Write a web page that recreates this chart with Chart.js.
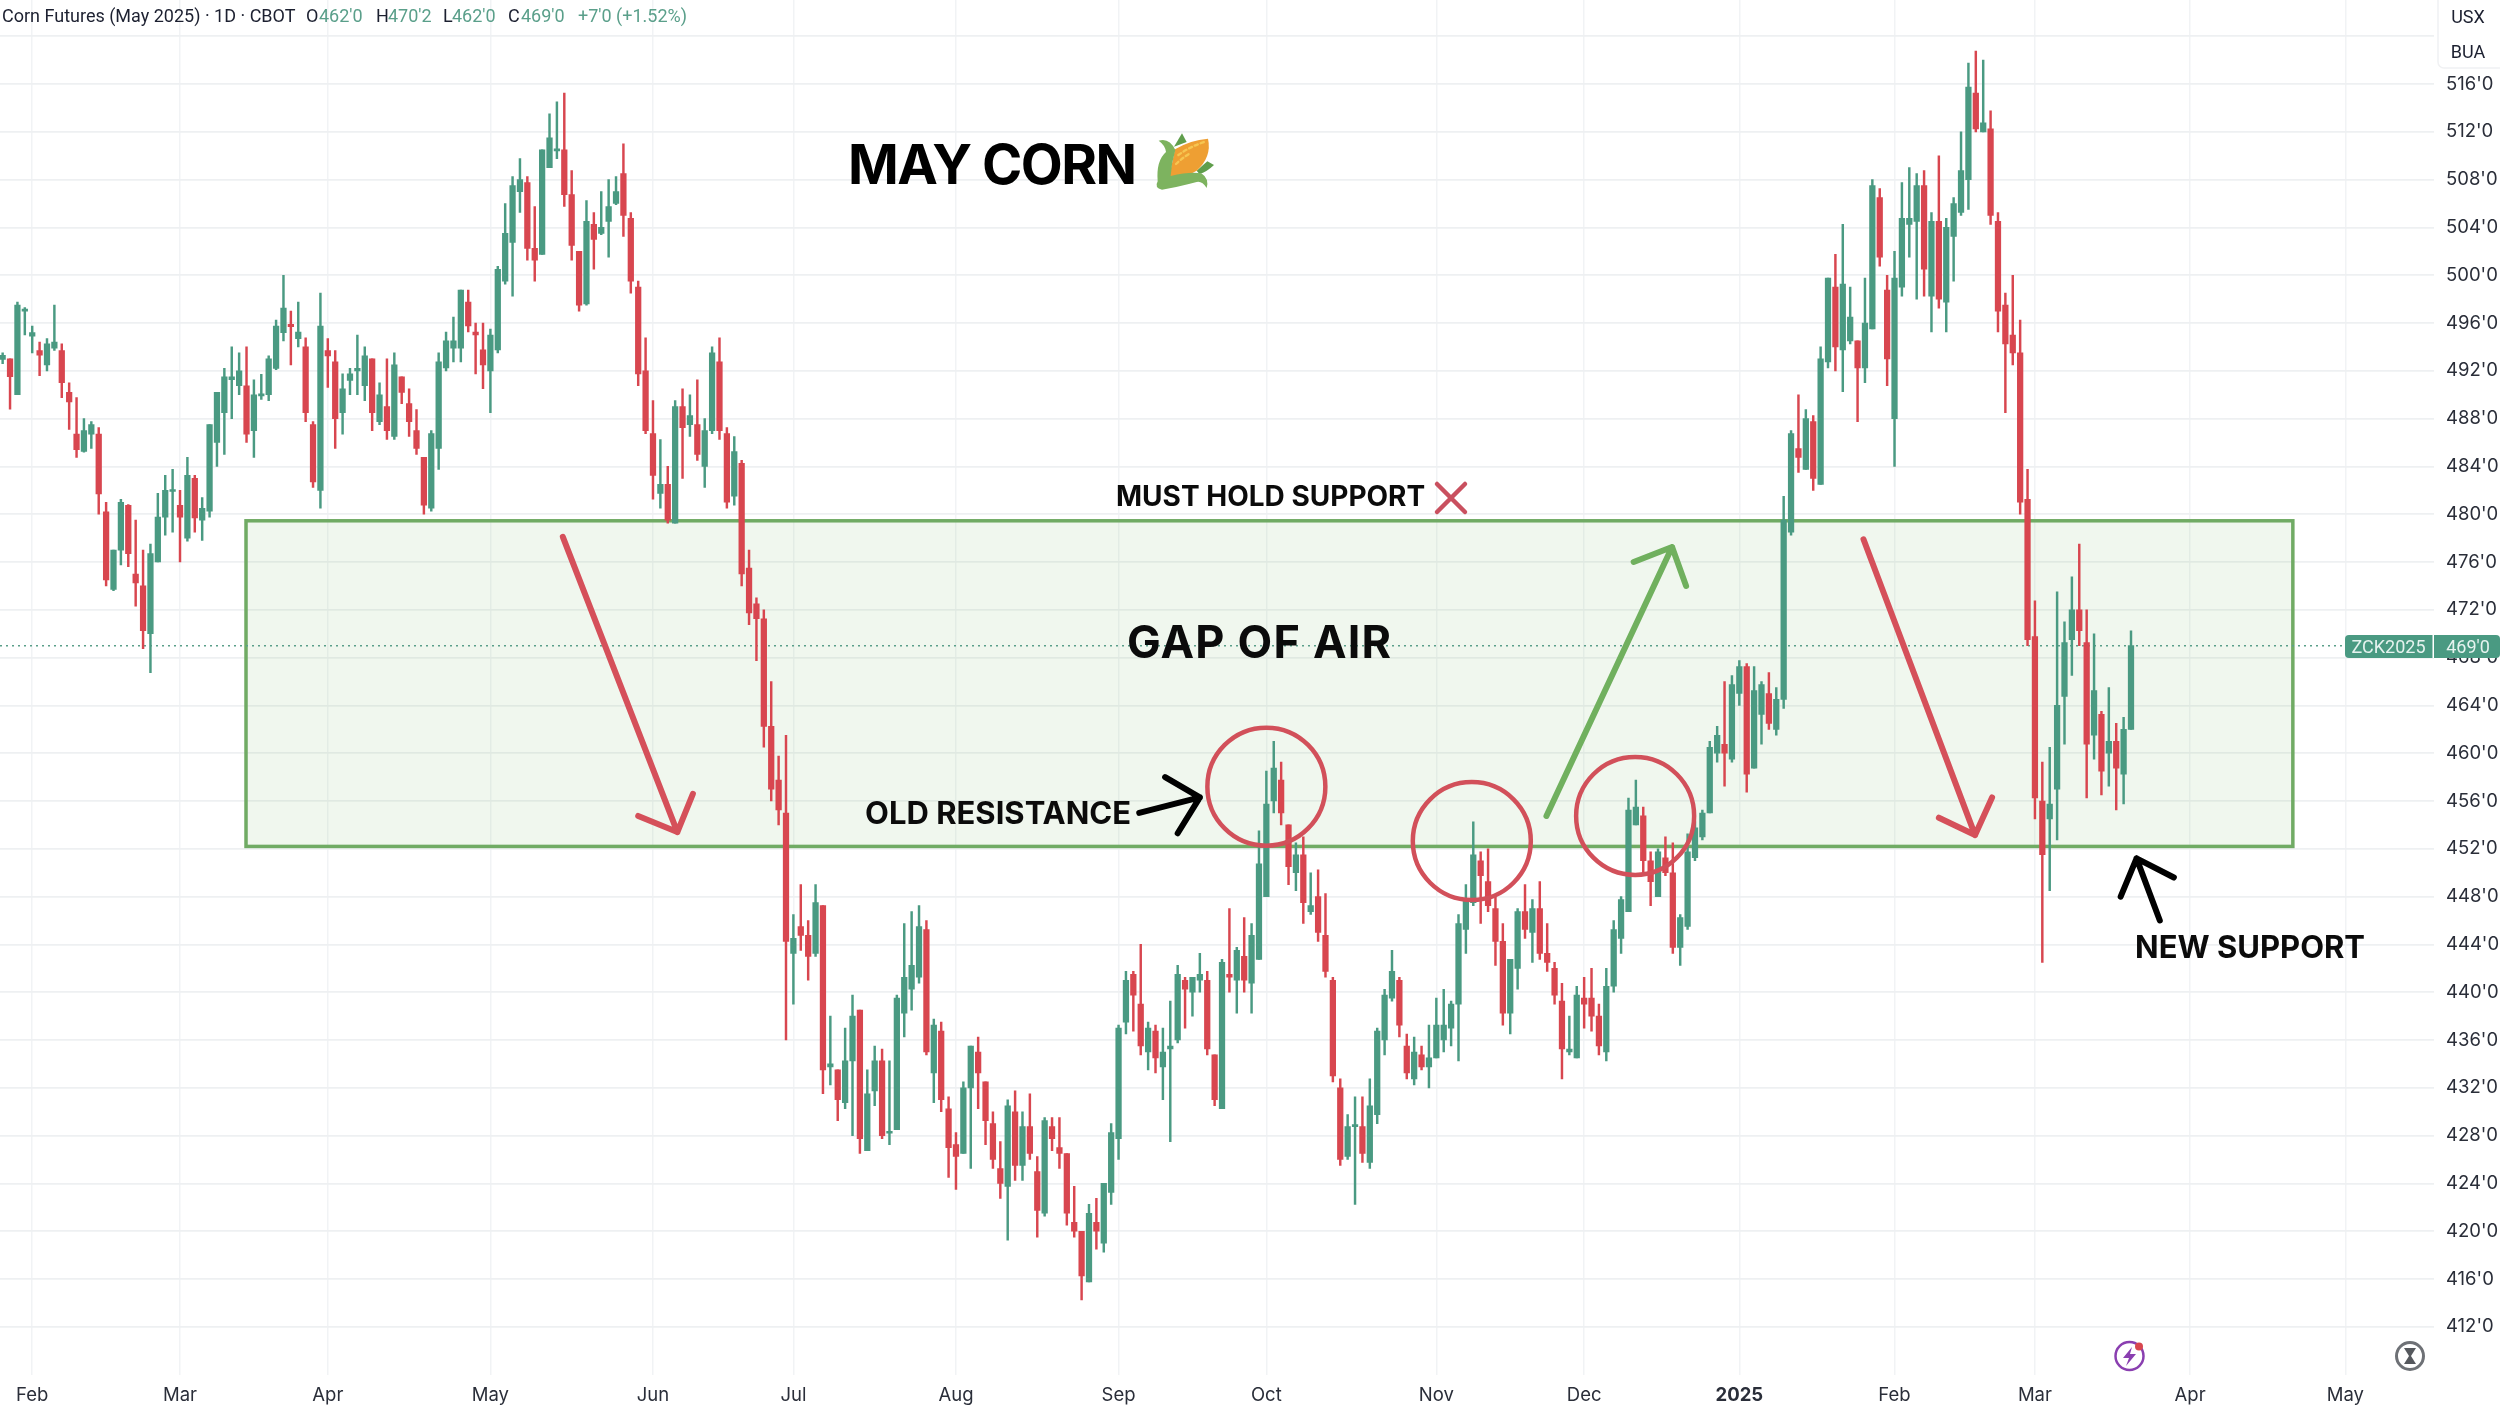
<!DOCTYPE html>
<html>
<head>
<meta charset="utf-8">
<title>May Corn</title>
<script src="https://cdn.jsdelivr.net/npm/chart.js@4/dist/chart.umd.min.js"></script>
<style>
html,body{margin:0;padding:0;background:#fff;overflow:hidden}
canvas{display:block}
</style>
</head>
<body>
<canvas id="mycanvas" width="2500" height="1406"></canvas>
<script>
// daily candles
var opens = [
492.95,493,490,497,494.9,493.7,492.5,493.9,493.7,490.2,
486.7,485.25,486.7,486.7,480.2,473.7,477,480.75,475,474,
470,476,479.75,481.9,480.75,478,483,479.5,480.25,486,
488.5,491.25,490.75,490.75,487,489.9,490,492.2,495.2,495.9,
494.7,494,487.5,482,493.7,492.75,488.5,491.2,492,490.75,
493,487.75,489,486.5,491.5,489.25,487,484.75,480.5,485.5,
492.25,493.9,493.9,497.75,495.25,493.75,492,493.75,499.5,502.75,
507,507.75,502.25,501.75,509,510.4,510.5,506.75,502,497.6,
504.25,503.5,504.5,506,508.5,504.75,499,492,486.75,481.75,
482.5,479.25,489,487.5,487.5,484,487,492.75,486.75,481.5,
484.25,475.5,472.5,471.25,462.25,457.75,455,443.25,445.5,444.75,
443.25,447.25,433.75,433.5,430.75,434.25,438.5,426.75,431.75,434.25,
428.2,428.5,438.25,440.25,441.25,445.25,433.25,436.75,430.25,427.25,
426.5,432,435,432.5,429,425.25,423.75,430,425.5,428.75,
425,421.5,428.75,427,426.5,420.75,420,415.75,420.75,419,
423.25,427.75,437.5,441.5,439,435,436.75,433.75,435.25,436,
441,440,441,441,434.75,430.25,441.5,441,443,440.75,
442.75,448,456,457.75,454,450,451.5,446.75,448,444.75,
441,432,426.25,428.75,428.75,425.75,429.75,436,439.5,441,
435.5,432.75,434.75,433.75,434.5,436,437,439,445.25,447.5,
451,449.25,447,444.25,438.25,442,446.75,445,447,443.25,
442,439.25,435,434.5,439.5,439.5,438,435,440.5,444.5,
446.75,454,454.75,451,448,451.25,450,443.75,445.5,451.25,
453,455,460,460.75,459.5,465,467.25,458.75,463.25,465,
462,464.5,478.5,485.5,483.75,487.75,482.5,492.75,499,493.75,
494.5,494.5,492.25,495.5,506.5,498.75,488,499,504.25,504.5,
507.5,498.25,504.5,497.75,503.25,505.25,508,515.25,512,512.25,
504.5,497.5,495,493.5,481.25,469.75,456,454.5,457,464.75,
469.5,472,469.25,461.5,463.25,460,461,458.25,462];
var closes = [
493.3,491.5,497.5,497.1,495.2,493.3,494.25,494.4,491,489.4,
485.4,487,487.5,481.7,474.5,477,481,476.7,474.25,470.25,
476.7,479.75,482,482,479.75,483.25,479.7,480.5,487.5,490.2,
491.5,491.5,492,486.7,490,490,493,495.75,497.25,495.7,
495.25,488.5,482.7,495.75,493.25,488,490.5,491.75,492.2,493.25,
488.5,490,487,492.5,490.2,487.75,485.5,480.75,486.75,492.75,
494.5,494.5,498.75,495.75,495,492.5,495,500.5,503.5,507.5,
508,502.25,501.25,510.5,511.5,510.5,506.75,502.5,497.5,504.5,
503,504,505.75,507,505,499.5,491.75,487,483.25,482.5,
479.5,489,487.25,488.25,485,487,493.5,487,481,485.25,
475,471.75,471.25,462.25,457,455.25,444.25,444.5,444.75,443,
447.5,433.5,434,431,434.25,438,427.75,431.5,434.25,428,
428.3,439.5,441.25,442.25,445.5,435,437.25,431,427,426.25,
432,435.5,433.25,429.25,426,424,430.5,425.5,428.75,426.5,
421.75,429.25,427.75,426.5,421.5,420,416.25,421.5,420,424,
428.25,437,441,439.75,435.5,437,434.5,435,435.5,441.5,
440.25,441.25,441.5,435.25,431,442.5,441.25,443.5,441,444.75,
450.75,455.75,458.75,455,450.5,451.5,447.5,447.25,445,441.75,
433,426,428.75,428.85,426.5,430.5,436.75,439.75,441.75,437.25,
433.25,435,433.75,434.5,437.25,437.25,439,445.75,447.75,451.5,
449.75,447.25,444.25,438.25,442.75,446.75,445.25,447,443.25,442.5,
439.75,435.25,435.25,439.75,439,438,435.5,440.5,445.25,447.75,
455.25,455.5,451,449.25,451.75,450,443.75,446.25,451.75,453.75,
455,460.5,461.5,460,465.75,467.25,458.25,465.25,465.75,462.5,
464.5,479.5,486.75,484.75,488,483,493,499.75,494,499.25,
496.5,492.25,496,507.5,501.5,493,499.75,504.75,504.75,507.5,
500.5,504.5,498,504,506,508.75,515.75,512.25,512.75,505,
497,494.25,493.5,481,469.5,456.25,451.5,455.75,464,469.25,
472,470.25,460.75,465.25,458.5,461,458.75,462,469];
var highs = [
493.5,493,497.75,497.3,495.75,494.4,494.7,497.5,494.25,491,
489.75,488,487.75,487.25,481,477,481.25,480.8,479.5,477,
477.5,481.75,483.25,483.75,482,484.75,483.25,481.4,487.5,490.2,
492.2,494,493.5,494,491.25,491.7,493.25,496.25,500,497,
497.75,494.75,487.75,498.5,494.7,493.7,491.75,492.2,495,494,
493,491,493,493.5,491.5,490.5,488.75,484.75,487,493.5,
495.25,496.5,498.75,498.75,496,496,495.5,500.75,506,508.25,
509.75,508.25,505.75,510.5,513.5,514.5,515.25,508.75,502,506.25,
505.25,507,508,508.25,511,505.25,499.5,494.75,489.5,486.25,
484,489.5,490.5,490,491.25,488,494,494.75,487.25,486.5,
484.5,477,473,472,466,459.75,461.5,446.5,449,446,
449,447.25,438,433.5,437,439.75,438.5,433.5,435.5,435.25,
434.25,439.75,445.75,446.75,447.25,446,437.75,437.5,431.25,428.25,
432.5,435.5,436.25,432.5,430,427.5,431,431.75,430,431.5,
426.25,429.5,429.5,429.5,426.5,423.75,420,422.25,422.75,424,
429,437.25,441.75,441.75,444,437.5,437.25,437,439.25,442.25,
441.25,441.25,443.25,441.75,434.75,442.75,447,443.75,446.25,445.75,
453.5,458.5,461,459.25,454,452.5,453,450,450.25,448.25,
441.25,432.75,429.75,431.25,431.25,432.75,437,440.25,443.5,441.25,
436.5,436.25,435.5,437.25,439.5,440.25,439.25,446.5,449,454.25,
451.75,452,448,445.75,442.75,447,449,447.75,449.25,445.75,
442.5,440.75,438,440.5,441.25,442,439,442,446,448,
456.25,457.75,455.5,451.75,452,453,452.5,446.5,453.25,454.25,
455.25,461,462.25,466,466.5,467.75,467.5,467.25,466,466.75,
465.5,481.5,487,490,488.75,488.25,494,499.75,501.75,504.25,
499,494.5,499.75,508,507.25,500,502,507.75,509,508.5,
508.75,505.25,510,504.75,506.5,512,517.75,518.75,518,513.75,
505.25,498.5,500,496.25,483.75,472.75,459.25,460.5,473.5,471,
474.75,477.5,472,470,463.5,465.5,462.5,463,470.25];
var lows = [
492.6,488.8,490,495,493.5,491.6,492,493.7,489.75,487.1,
484.75,485.2,485.5,480,474,473.6,475.75,475.6,472.3,468.75,
466.75,476,478.25,478.5,476,477.75,478.5,477.8,479.75,484,
485,488,490,486,484.75,489.6,489.5,492.1,494.5,492.5,
494,487.75,482.25,480.5,490.6,485.5,486.7,490,490,489.5,
487,487.5,486.25,486.25,489.25,486.5,485,480,480.25,483.75,
492,492.75,492.75,495.25,491.75,490.5,488.5,493.5,499.25,498.25,
505.25,501.25,499.5,501.75,509,509.75,505.75,501.25,497,497.5,
500.5,503.4,501.5,505.9,503.25,498.5,490.75,486.75,481.25,480.5,
479.25,479.25,483,486.5,484.5,482.25,486.75,486.25,480.5,480.75,
474,470.75,467.75,460.5,456,454,436,439,443.5,441,
443,431.5,432.25,429.25,430.25,428,426.5,426.75,430.5,427.75,
427.25,428.5,436.25,438.5,440.75,434.75,430.75,430,424.5,423.5,
426.5,425.25,430.25,427.25,425.25,422.75,419.25,424.25,424.25,426,
419.5,421.25,426.75,425.25,420.5,419.5,414.25,415.75,418.5,418.25,
422.25,426,436.5,436.75,434.75,433.5,433.25,431,427.5,435.75,
437,438,440,434.75,430.5,430.25,440,438.25,440,438.25,
442.75,448,455,454,449,448.5,445.75,446.5,444.25,441.25,
432.5,425.5,426,422.25,425.75,425.25,429,434.75,439.25,436.25,
432.75,432.25,433.5,432,434.5,435,435.5,434.25,443.25,447.25,
445.75,446.75,442.25,437.25,436.5,440.25,444.5,442.5,442.75,441.75,
439,432.75,434.75,434.5,437,436.75,434.75,434.25,440,443.25,
446.75,454,450,447.25,448,449.75,443.25,442.25,445.25,451,
452.75,455,459.25,457.25,459.25,464,456.75,458.75,460.75,462,
461.5,463.75,478.25,483.5,483.75,482,482.5,492.25,492,490.25,
494.25,487.75,491,495.5,500.75,490.75,484,498.25,501.5,498,
498.25,495.25,497.25,495.25,499.5,505,505.5,512,512,504.25,
495.25,488.5,492.5,480,469,454.5,442.5,448.5,452.75,460.75,
466.5,469,456.25,459.5,456.5,457.25,455.25,455.75,462];

// month ticks sit on the candle number of the first session
var monthPos = [4,24,44,66,88,107,129,151,171,194,214,235,256,275,296,317];
var monthNames = ["Feb","Mar","Apr","May","Jun","Jul","Aug","Sep","Oct","Nov","Dec","2025","Feb","Mar","Apr","May"];
var priceTicks = [412,416,420,424,428,432,436,440,444,448,452,456,460,464,468,472,476,480,484,488,492,496,500,504,508,512,516,520];

var GREEN = "#4a9a82";
var RED = "#d8464f";
var FONT = "Inter, 'Liberation Sans', sans-serif";
var NARROW = "Roboto, 'Liberation Sans', sans-serif";

var wicks = [], bodies = [];
for (var i = 0; i < opens.length; i++) {
	wicks.push({x: i, y: [lows[i], highs[i]]});
	bodies.push({x: i, y: [opens[i], closes[i]]});
}

function candleColor(ctx) {
	var n = ctx.dataIndex;
	return closes[n] >= opens[n] ? GREEN : RED;
}

// the green box goes behind the candles
var zonePlugin = {
	id: "zone",
	beforeDatasetsDraw: function(chart) {
		var c = chart.ctx, sx = chart.scales.x, sy = chart.scales.y;
		var x1 = sx.getPixelForValue(32.93), x2 = sx.getPixelForValue(309.9);
		var y1 = sy.getPixelForValue(479.45), y2 = sy.getPixelForValue(452.2);
		c.save();
		c.fillStyle = "rgba(112,176,96,0.105)";
		c.fillRect(x1, y1, x2 - x1, y2 - y1);
		c.strokeStyle = "#70ab64";
		c.lineWidth = 3.5;
		c.strokeRect(x1, y1, x2 - x1, y2 - y1);
		// last price line
		var py = sy.getPixelForValue(469);
		c.strokeStyle = "#5a9f8a";
		c.lineWidth = 1.5;
		c.setLineDash([2, 4]);
		c.beginPath();
		c.moveTo(0, py);
		c.lineTo(2345, py);
		c.stroke();
		c.restore();
	}
};

function arrow(chart, pts, color, w) {
	var c = chart.ctx, sx = chart.scales.x, sy = chart.scales.y;
	function X(p) { return sx.getPixelForValue(p[0]); }
	function Y(p) { return sy.getPixelForValue(p[1]); }
	c.strokeStyle = color;
	c.lineWidth = w;
	c.lineCap = "round";
	c.lineJoin = "round";
	c.beginPath();
	c.moveTo(X(pts.tail), Y(pts.tail));
	c.lineTo(X(pts.tip), Y(pts.tip));
	c.moveTo(X(pts.a), Y(pts.a));
	c.lineTo(X(pts.tip), Y(pts.tip));
	c.lineTo(X(pts.b), Y(pts.b));
	c.stroke();
}

function ring(chart, i, p, r) {
	var c = chart.ctx;
	c.strokeStyle = "#d2505a";
	c.lineWidth = 4.5;
	c.beginPath();
	c.arc(chart.scales.x.getPixelForValue(i), chart.scales.y.getPixelForValue(p), r, 0, Math.PI * 2);
	c.stroke();
}

function label(c, txt, x, y, font, color, align, spacing) {
	c.font = font;
	c.fillStyle = color;
	c.textAlign = align || "left";
	c.textBaseline = "alphabetic";
	c.letterSpacing = (spacing || 0) + "px";
	c.fillText(txt, x, y);
	c.letterSpacing = "0px";
}

function corn(c) {
	// drawn in the 3x crop's units, then scaled down
	c.save();
	c.translate(800, 100);
	c.scale(1 / 3, 1 / 3);
	c.fillStyle = "#5f9e4c";
	c.beginPath();
	c.moveTo(1122, 140); c.lineTo(1146, 100); c.lineTo(1160, 126); c.closePath(); c.fill();
	c.beginPath();
	c.moveTo(1190, 212); c.lineTo(1222, 184); c.lineTo(1242, 195);
	c.quadraticCurveTo(1220, 216, 1198, 222); c.closePath(); c.fill();
	c.fillStyle = "#ee9f33";
	c.beginPath();
	c.moveTo(1125, 148);
	c.quadraticCurveTo(1170, 120, 1224, 116);
	c.quadraticCurveTo(1236, 170, 1190, 212);
	c.quadraticCurveTo(1150, 236, 1108, 228);
	c.closePath(); c.fill();
	c.strokeStyle = "#f6c651";
	c.lineWidth = 7;
	c.setLineDash([10, 9]);
	c.beginPath();
	c.moveTo(1135, 165); c.quadraticCurveTo(1170, 140, 1215, 125);
	c.moveTo(1128, 192); c.quadraticCurveTo(1145, 175, 1170, 160);
	c.stroke();
	c.setLineDash([]);
	c.fillStyle = "#7db35f";
	c.beginPath();
	c.moveTo(1076, 122);
	c.quadraticCurveTo(1108, 112, 1126, 150);
	c.quadraticCurveTo(1114, 190, 1112, 228);
	c.quadraticCurveTo(1170, 214, 1204, 220);
	c.quadraticCurveTo(1228, 236, 1220, 264);
	c.quadraticCurveTo(1206, 242, 1190, 246);
	c.quadraticCurveTo(1130, 262, 1086, 269);
	c.quadraticCurveTo(1062, 264, 1073, 244);
	c.quadraticCurveTo(1068, 182, 1098, 156);
	c.quadraticCurveTo(1096, 136, 1076, 122);
	c.closePath(); c.fill();
	c.restore();
}

function icons(c) {
	// purple bolt
	c.strokeStyle = "#8a3fb0";
	c.lineWidth = 2.5;
	c.beginPath();
	c.arc(2129.5, 1356, 14, 0, Math.PI * 2);
	c.stroke();
	c.fillStyle = "#8a3fb0";
	c.beginPath();
	c.moveTo(2132, 1347); c.lineTo(2123, 1358); c.lineTo(2129, 1358);
	c.lineTo(2126, 1366); c.lineTo(2136, 1354); c.lineTo(2130, 1354); c.closePath(); c.fill();
	c.fillStyle = "#d8464f";
	c.beginPath();
	c.arc(2139, 1346.5, 4, 0, Math.PI * 2);
	c.fill();
	// hourglass
	c.strokeStyle = "#6e7176";
	c.lineWidth = 3;
	c.beginPath();
	c.arc(2410, 1356, 13.5, 0, Math.PI * 2);
	c.stroke();
	c.fillStyle = "#55585d";
	c.beginPath();
	c.moveTo(2404, 1348); c.lineTo(2416, 1348); c.lineTo(2411, 1356); c.lineTo(2416, 1364);
	c.lineTo(2404, 1364); c.lineTo(2409, 1356); c.closePath(); c.fill();
}

var notesPlugin = {
	id: "notes",
	afterDatasetsDraw: function(chart) {
		var c = chart.ctx;
		c.save();
		arrow(chart, {tail: [75.8, 478.1], tip: [91.3, 453.4], a: [86, 454.75], b: [93.4, 456.6]}, "#d5505a", 6);
		arrow(chart, {tail: [251.8, 477.9], tip: [266.9, 453.15], a: [262, 454.6], b: [269.2, 456.3]}, "#d5505a", 6);
		arrow(chart, {tail: [208.9, 454.75], tip: [225.9, 477.25], a: [220.7, 476], b: [227.8, 474]}, "#70b05e", 6);
		arrow(chart, {tail: [153.8, 455], tip: [162, 456.3], a: [157.3, 458], b: [159, 453.3]}, "#000", 6);
		arrow(chart, {tail: [291.9, 446], tip: [288.75, 451.2], a: [286.6, 448], b: [293.8, 449.6]}, "#000", 6);
		ring(chart, 171, 457.2, 59);
		ring(chart, 198.8, 452.65, 59);
		ring(chart, 220.9, 454.75, 59);

		label(c, "MAY CORN", 848, 184, "700 54.5px " + FONT, "#000", "left", -1.5);
		corn(c);
		label(c, "GAP OF AIR", 1127, 658, "700 45px " + FONT, "#0b0b0b", "left", 1.2);
		label(c, "MUST HOLD SUPPORT", 1116, 506, "700 28px " + FONT, "#0b0b0b");
		label(c, "OLD RESISTANCE", 865, 824, "700 31px " + FONT, "#0b0b0b");
		label(c, "NEW SUPPORT", 2135, 958, "700 31px " + FONT, "#0b0b0b");

		c.strokeStyle = "#c9505f";
		c.lineWidth = 4.5;
		c.lineCap = "round";
		c.beginPath();
		c.moveTo(1437, 484); c.lineTo(1465, 512);
		c.moveTo(1465, 484); c.lineTo(1437, 512);
		c.stroke();

		// header line
		var f = "400 18px " + NARROW, up = "#5a9f8a", ink = "#1c2030";
		label(c, "Corn Futures (May 2025) \u00b7 1D \u00b7 CBOT", 2, 22, f, ink);
		label(c, "O", 306, 22, f, ink);
		label(c, "462'0", 319, 22, f, up);
		label(c, "H", 376, 22, f, ink);
		label(c, "470'2", 388, 22, f, up);
		label(c, "L", 443, 22, f, ink);
		label(c, "462'0", 452, 22, f, up);
		label(c, "C", 508, 22, f, ink);
		label(c, "469'0", 521, 22, f, up);
		label(c, "+7'0 (+1.52%)", 578, 22, f, up);

		// currency / unit box
		c.fillStyle = "#fff";
		c.strokeStyle = "#f0f1f3";
		c.lineWidth = 1.5;
		c.beginPath();
		c.roundRect(2438, -6, 70, 74, 6);
		c.fill();
		c.stroke();
		label(c, "USX", 2468, 23, "400 18px " + NARROW, ink, "center");
		label(c, "BUA", 2468, 58, "400 18px " + NARROW, ink, "center");

		// last price badge
		c.fillStyle = "#4a9a82";
		c.beginPath();
		c.roundRect(2345, 635, 155, 23, 4);
		c.fill();
		c.fillStyle = "#fff";
		c.fillRect(2432.5, 635, 1.5, 23);
		label(c, "ZCK2025", 2388.5, 653, "400 18px " + NARROW, "#e6f3ef", "center");
		label(c, "469'0", 2468, 653, "400 18px " + NARROW, "#e6f3ef", "center");

		icons(c);
		c.restore();
	}
};

var ctx = document.getElementById("mycanvas");
var candleChart = new Chart(ctx, {
	type: "bar",
	data: {
		datasets: [
			{label: "Body", data: bodies, backgroundColor: candleColor, barThickness: 5.6, grouped: false, borderWidth: 0, borderSkipped: false, minBarLength: 2},
			{label: "Wick", data: wicks, backgroundColor: candleColor, barThickness: 1.8, grouped: false, borderWidth: 0, borderSkipped: false}
		]
	},
	plugins: [zonePlugin, notesPlugin],
	options: {
		responsive: false,
		animation: false,
		devicePixelRatio: 1,
		layout: {padding: 0},
		plugins: {legend: {display: false}, tooltip: {enabled: false}, title: {display: false}},
		scales: {
			x: {
				type: "linear",
				min: -0.3586,
				max: 329,
				offset: false,
				border: {display: false},
				grid: {color: "#f1f3f5", lineWidth: 1.5, drawTicks: false, offset: false},
				afterBuildTicks: function(axis) {
					axis.ticks = monthPos.map(function(v) { return {value: v}; });
				},
				afterFit: function(axis) {
					axis.height = 31.5;
					axis.paddingLeft = 0;
					axis.paddingRight = 0;
				},
				ticks: {
					autoSkip: false,
					maxRotation: 0,
					padding: 10,
					color: "#2a2e39",
					font: function(c) {
						var bold = c.tick && c.tick.value === 235;
						return {family: FONT, size: 18.5, weight: bold ? "700" : "400"};
					},
					callback: function(v) {
						var k = monthPos.indexOf(v);
						return k < 0 ? "" : monthNames[k];
					}
				}
			},
			y: {
				type: "linear",
				position: "right",
				min: 408.01,
				max: 523.03,
				border: {display: false},
				grid: {color: "#eef0f2", lineWidth: 1.8, drawTicks: false},
				afterBuildTicks: function(axis) {
					axis.ticks = priceTicks.map(function(v) { return {value: v}; });
				},
				afterFit: function(axis) {
					axis.width = 66;
					axis.paddingTop = 0;
					axis.paddingBottom = 0;
				},
				ticks: {
					padding: 12,
					color: "#2a2e39",
					font: {family: FONT, size: 18.5},
					callback: function(v) { return v + "'0"; }
				}
			}
		}
	}
});
</script>
</body>
</html>
